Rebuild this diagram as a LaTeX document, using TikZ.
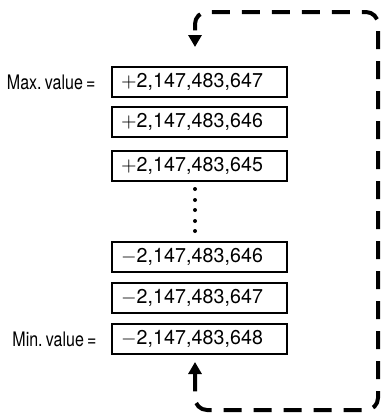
\documentclass[tikz,border=0pt]{standalone}
\usepackage{fontspec}
\setmainfont{TeX Gyre Heros}
\newfontfamily\narrowfont[FakeStretch=0.8]{TeX Gyre Heros}
\newfontfamily\widefont[FakeStretch=0.98, LetterSpace=0.5]{TeX Gyre Heros}
\usetikzlibrary{arrows.meta, positioning, calc}

\tikzset{
    valbox/.style={draw, line width=0.75pt, minimum height=14pt, inner xsep=4.5pt,
        text width=78.5pt, align=left, font=\widefont\fontsize{10}{12}\selectfont},
    sidelabel/.style={anchor=east, inner sep=0pt, font=\narrowfont\fontsize{10}{12}\selectfont},
    wrap/.style={line width=2pt, dash pattern=on 9pt off 6pt, rounded corners=6pt,
        {Triangle[length=6pt, width=6.5pt]}-{Triangle[length=6pt, width=6.5pt]}}
}

\begin{document}
\begin{tikzpicture}[x=0.5pt, y=-0.5pt]
    \useasboundingbox (0,0) rectangle (383,419);

    % values
    \node[valbox] (maxv) at (199.5,82)  {$+$2,147,483,647};
    \node[valbox] (p646) at (199.5,122) {$+$2,147,483,646};
    \node[valbox] (p645) at (199.5,166) {$+$2,147,483,645};
    \node[valbox] (m646) at (199.5,257) {$-$2,147,483,646};
    \node[valbox] (m647) at (199.5,298) {$-$2,147,483,647};
    \node[valbox] (minv) at (199.5,339) {$-$2,147,483,648};

    % labels
    \node[sidelabel] (maxlabel) at (96,82)  {Max.\,value\,=};
    \node[sidelabel] (minlabel) at (97,339) {Min.\,value\,=};

    % dots
    \foreach \y in {189,200,210,221,231}
        \fill (195,\y) circle (2);

    % wrap-around
    \coordinate (topend) at (195,47);
    \coordinate (botend) at (195,362);
    \draw[wrap] (botend) -- (195,410) -- (378,410) -- (378,12) -- (195,12) -- (topend);
\end{tikzpicture}
\end{document}
